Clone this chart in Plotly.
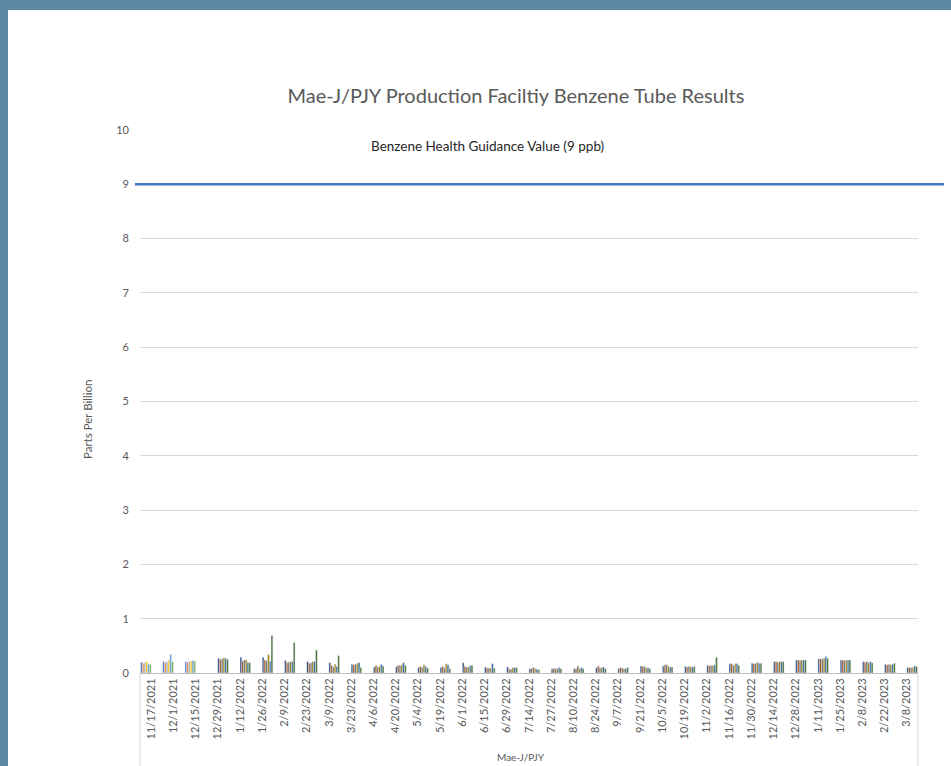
import plotly.graph_objects as go

dates = ["11/17/2021", "12/1/2021", "12/15/2021", "12/29/2021", "1/12/2022", "1/26/2022",
         "2/9/2022", "2/23/2022", "3/9/2022", "3/23/2022", "4/6/2022", "4/20/2022",
         "5/4/2022", "5/19/2022", "6/1/2022", "6/15/2022", "6/29/2022", "7/14/2022",
         "7/27/2022", "8/10/2022", "8/24/2022", "9/7/2022", "9/21/2022", "10/5/2022",
         "10/19/2022", "11/2/2022", "11/16/2022", "11/30/2022", "12/14/2022", "12/28/2022",
         "1/11/2023", "1/25/2023", "2/8/2023", "2/22/2023", "3/8/2023"]

# first campaign (2021) uses series 1-6, later samples use series 7-12
first_campaign_count = 3

tube1 = [0.20, 0.21, 0.21, 0.27, 0.29, 0.29, 0.23, 0.21, 0.19, 0.16, 0.11, 0.12, 0.10, 0.10, 0.19, 0.11, 0.11, 0.08,
         0.08, 0.08, 0.10, 0.08, 0.13, 0.13, 0.12, 0.14, 0.17, 0.18, 0.21, 0.24, 0.26, 0.24, 0.21, 0.16, 0.10]
tube2 = [0.18, 0.19, 0.20, 0.25, 0.22, 0.24, 0.19, 0.18, 0.14, 0.15, 0.14, 0.14, 0.12, 0.12, 0.12, 0.09, 0.07, 0.08,
         0.08, 0.08, 0.13, 0.10, 0.12, 0.15, 0.11, 0.13, 0.17, 0.17, 0.21, 0.24, 0.26, 0.24, 0.20, 0.15, 0.10]
tube3 = [0.19, 0.21, 0.21, 0.26, 0.24, 0.23, 0.20, 0.19, 0.11, 0.16, 0.11, 0.14, 0.10, 0.10, 0.11, 0.09, 0.07, 0.10,
         0.08, 0.13, 0.09, 0.09, 0.12, 0.15, 0.12, 0.14, 0.14, 0.17, 0.20, 0.23, 0.26, 0.23, 0.21, 0.16, 0.10]
tube4 = [0.21, 0.24, 0.22, 0.28, 0.24, 0.34, 0.21, 0.21, 0.16, 0.18, 0.12, 0.15, 0.15, 0.17, 0.11, 0.09, 0.10, 0.08,
         0.08, 0.08, 0.10, 0.08, 0.09, 0.12, 0.12, 0.14, 0.17, 0.20, 0.21, 0.24, 0.27, 0.24, 0.19, 0.15, 0.10]
tube5 = [0.16, 0.34, 0.23, 0.27, 0.19, 0.22, 0.21, 0.21, 0.12, 0.19, 0.16, 0.19, 0.12, 0.15, 0.14, 0.17, 0.10, 0.07,
         0.10, 0.10, 0.11, 0.08, 0.10, 0.11, 0.11, 0.15, 0.17, 0.18, 0.21, 0.24, 0.30, 0.24, 0.21, 0.16, 0.13]
tube6 = [0.16, 0.21, 0.22, 0.25, 0.19, 0.69, 0.56, 0.42, 0.32, 0.10, 0.13, 0.14, 0.09, 0.08, 0.14, 0.09, 0.10, 0.06,
         0.08, 0.08, 0.08, 0.10, 0.08, 0.11, 0.12, 0.29, 0.14, 0.18, 0.21, 0.24, 0.27, 0.24, 0.19, 0.18, 0.12]

tubes = [tube1, tube2, tube3, tube4, tube5, tube6]
light_colors = ["#4472C4", "#ED7D31", "#A5A5A5", "#FFC000", "#5B9BD5", "#70AD47"]
dark_colors = ["#264478", "#9E480E", "#636363", "#997300", "#255E91", "#43682B"]

guidance_value = 9

fig = go.Figure()
for k, vals in enumerate(tubes):
    ys = [v if i < first_campaign_count else None for i, v in enumerate(vals)]
    fig.add_trace(go.Bar(x=dates, y=ys, marker_color=light_colors[k], name=f"Series {k+1}"))
for k, vals in enumerate(tubes):
    ys = [v if i >= first_campaign_count else None for i, v in enumerate(vals)]
    fig.add_trace(go.Bar(x=dates, y=ys, marker_color=dark_colors[k], name=f"Series {k+7}"))

W, H = 951, 766
L, R, T, B = 140, 33, 130, 93
pw = W - L - R
ph = H - T - B

def px2paperx(px):
    return (px - L) / pw

def px2papery(py):
    return (H - B - py) / ph

frame = "#5E87A2"
fig.update_layout(
    width=W, height=H,
    margin=dict(l=L, r=R, t=T, b=B),
    paper_bgcolor=frame,
    plot_bgcolor="rgba(0,0,0,0)",
    barmode="group", bargap=0.05, bargroupgap=0,
    showlegend=False,
    font=dict(family="Lato, Carlito, sans-serif", color="#595959"),
    title=dict(text="Mae-J/PJY Production Faciltiy Benzene Tube Results",
               x=516 / W, xanchor="center", y=1 - 96 / H, yanchor="middle",
               xref="container", yref="container",
               font=dict(size=20, color="#595959")),
    xaxis=dict(type="category", tickangle=-90, tickfont=dict(size=11, color="#595959"),
               showline=True, linecolor="#BFBFBF", linewidth=1, ticks="", showgrid=False),
    yaxis=dict(range=[0, 10], dtick=1, tickfont=dict(size=11, color="#595959"),
               showgrid=True, gridcolor="#D9D9D9", gridwidth=1, zeroline=False,
               ticks="", ticklabelstandoff=10),
    shapes=[
        dict(type="rect", xref="paper", yref="paper", layer="below",
             x0=px2paperx(8), x1=px2paperx(W + 5), y0=px2papery(H + 5), y1=px2papery(10),
             fillcolor="white", line=dict(width=0)),
        dict(type="line", xref="paper", yref="paper", x0=0, x1=0, y0=0, y1=px2papery(H),
             line=dict(color="#D9D9D9", width=1)),
        dict(type="line", xref="paper", yref="paper", x0=1, x1=1, y0=0, y1=px2papery(H),
             line=dict(color="#D9D9D9", width=1)),
        dict(type="line", xref="paper", yref="y", x0=px2paperx(135), x1=px2paperx(944),
             y0=guidance_value, y1=guidance_value, line=dict(color="#4472C4", width=2.5)),
    ],
    annotations=[
        dict(text="Benzene Health Guidance Value (9 ppb)", xref="paper", yref="paper",
             x=px2paperx(487), y=px2papery(146), xanchor="center", yanchor="middle",
             showarrow=False, font=dict(size=13.5, color="#262626")),
        dict(text="Parts Per Billion", xref="paper", yref="paper", textangle=-90,
             x=px2paperx(87), y=px2papery(420), xanchor="center", yanchor="middle",
             showarrow=False, font=dict(size=11.5, color="#595959")),
        dict(text="Mae-J/PJY", xref="paper", yref="paper",
             x=px2paperx(521), y=px2papery(757), xanchor="center", yanchor="middle",
             showarrow=False, font=dict(size=10, color="#595959")),
    ],
)

fig.write_html("out.html", config={"displayModeBar": False},
               post_script="document.body.style.margin='0';document.body.style.overflow='hidden';")
